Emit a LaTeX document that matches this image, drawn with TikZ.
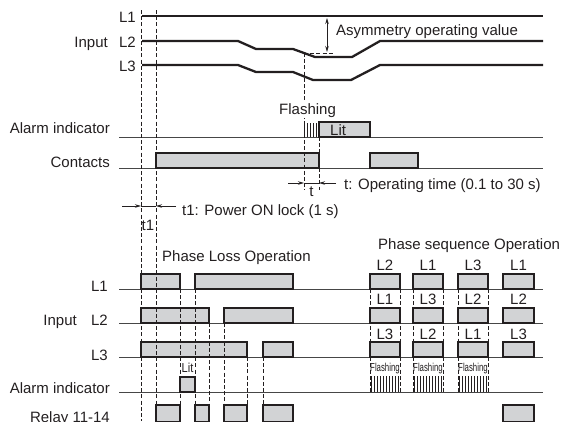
\documentclass[tikz,border=0pt]{standalone}
\usepackage{fontspec}
\setmainfont{Liberation Sans}
\usetikzlibrary{arrows.meta}
\definecolor{ink}{RGB}{35,31,32}
\definecolor{pfill}{RGB}{210,211,213}
\definecolor{basec}{RGB}{70,70,70}
\newcommand{\bigf}{\fontsize{15}{17}\selectfont}
\newcommand{\smallf}{\fontsize{11.5}{13}\selectfont}
\begin{document}
\begin{tikzpicture}[x=1pt,y=-1pt,
  sig/.style={line width=2.3pt, draw=ink},
  baseln/.style={line width=1pt, draw=basec},
  pulse/.style={draw=ink, fill=pfill, line width=1.2pt},
  guide/.style={draw=ink, line width=0.7pt, dash pattern=on 4pt off 2.2pt},
  lbl/.style={font=\bigf, inner sep=0pt, text=ink},
  slbl/.style={font=\smallf, inner sep=0pt, text=ink},
  hatch/.style={line width=0.8pt, draw=ink},
  dimarrow/.style={line width=0.8pt, draw=ink, -{Stealth[length=6pt,width=3.5pt]}},
  dimline/.style={line width=0.8pt, draw=ink}]
\useasboundingbox (0,0) rectangle (563,421);
\clip (0,0) rectangle (563,421);

% ---------- top: input signals ----------
\node[lbl, anchor=base east] (tL1) at (136,22) {L1};
\node[lbl, anchor=base east] (tL2) at (136,47) {L2};
\node[lbl, anchor=base east] (tL3) at (136,71) {L3};
\node[lbl, anchor=base east] (tIn) at (108,47) {Input};

\draw[sig] (142,16) -- (543,16);
\draw[sig] (142,41) -- (238,41) -- (256,49) -- (293,49) -- (315,57) -- (352,57) -- (380,41) -- (543,41);
\draw[sig] (142,65) -- (238,65) -- (256,72) -- (293,72) -- (313,80) -- (351,80) -- (380,65) -- (543,65);

% asymmetry
\coordinate (asyT) at (327,18);
\coordinate (asyB) at (327,52);
\draw[dimline, {Stealth[length=6pt,width=3.5pt]}-{Stealth[length=6pt,width=3.5pt]}] (asyT) -- (asyB);
\coordinate (thrA) at (304,53);
\coordinate (thrB) at (333,53);
\draw[guide] (thrA) -- (thrB);
\node[lbl, anchor=base west] (asy) at (336,35) {Asymmetry operating value};

% ---------- top: alarm indicator & contacts ----------
\node[lbl, anchor=base east] (tAl) at (110,133) {Alarm indicator};
\node[lbl, anchor=base east] (tCo) at (110,167) {Contacts};
\draw[baseln] (119,137) -- (543,137);
\draw[baseln] (119,168) -- (543,168);
\foreach \x in {304,307,310,313,316} \draw[hatch] (\x,123) -- (\x,137);
\draw[pulse] (319,122) rectangle (370,137);
\node[lbl, anchor=base west] (tLit) at (330,135.5) {Lit};
\draw[pulse] (156,153) rectangle (319,168);
\draw[pulse] (370,153) rectangle (418,168);

% ---------- timing dimensions ----------
\coordinate (tA) at (288,183);
\coordinate (tB) at (304,183);
\coordinate (tC) at (319,183);
\coordinate (tD) at (336,183);
\draw[dimarrow] (tA) -- (tB);
\draw[dimarrow] (tD) -- (tC);
\draw[dimline] (tB) -- (tC);
\node[lbl, anchor=base] (tlab) at (311.5,196.5) {t};
\node[lbl, anchor=base west] (tdesc) at (344,189) {t: Operating time (0.1 to 30 s)};

\coordinate (t1A) at (122,206);
\coordinate (t1B) at (141,206);
\coordinate (t1C) at (156,206);
\coordinate (t1D) at (176,206);
\draw[dimarrow] (t1A) -- (t1B);
\draw[dimarrow] (t1D) -- (t1C);
\draw[dimline] (t1B) -- (t1C);
\node[lbl, anchor=base] (t1lab) at (148,230) {t1};
\node[lbl, anchor=base west] (t1desc) at (182,215) {t1: Power ON lock (1 s)};

% ---------- bottom section ----------
\node[lbl, anchor=base west] (plo) at (162,261) {Phase Loss Operation};
\node[lbl, anchor=base west] (pso) at (378,249) {Phase sequence Operation};

\node[lbl, anchor=base east] (bL1) at (108,291.5) {L1};
\node[lbl, anchor=base east] (bL2) at (108,325) {L2};
\node[lbl, anchor=base east] (bIn) at (77,325) {Input};
\node[lbl, anchor=base east] (bL3) at (108,360) {L3};
\node[lbl, anchor=base east] (bAl) at (110,393) {Alarm indicator};
\node[lbl, anchor=base east] (bRe) at (110,422.5) {Relay 11-14};

\draw[baseln] (119,289) -- (543,289);
\draw[baseln] (119,323) -- (543,323);
\draw[baseln] (119,357) -- (543,357);
\draw[baseln] (119,392) -- (543,392);
\draw[baseln] (119,422) -- (543,422);

% phase loss pulses
\draw[pulse] (141,274) rectangle (180,289);
\draw[pulse] (195,274) rectangle (293,289);
\draw[pulse] (141,308) rectangle (209,323);
\draw[pulse] (224,308) rectangle (293,323);
\draw[pulse] (141,342) rectangle (247,357);
\draw[pulse] (263,342) rectangle (293,357);
\draw[pulse] (180,377) rectangle (195,392);
\node[font=\fontsize{13}{14}\selectfont, inner sep=0pt, text=ink, anchor=base] (bLit) at (187.5,372.5) {\scalebox{0.85}[1]{Lit}};
\foreach \a/\b in {156/180,195/209,224/247,263/293,503/534}
  \draw[pulse] (\a,405) rectangle (\b,422);

% phase sequence pulses
\foreach \a/\b in {370/400,413/443,458/488,503/534}{
  \draw[pulse] (\a,274) rectangle (\b,289);
  \draw[pulse] (\a,308) rectangle (\b,323);
  \draw[pulse] (\a,342) rectangle (\b,357);
}
\node[lbl, anchor=base] (r1a) at (385,270) {L2};
\node[lbl, anchor=base] (r1b) at (428,270) {L1};
\node[lbl, anchor=base] (r1c) at (473,270) {L3};
\node[lbl, anchor=base] (r1d) at (518.5,270) {L1};
\node[lbl, anchor=base] (r2a) at (385,304.5) {L1};
\node[lbl, anchor=base] (r2b) at (428,304.5) {L3};
\node[lbl, anchor=base] (r2c) at (473,304.5) {L2};
\node[lbl, anchor=base] (r2d) at (518.5,304.5) {L2};
\node[lbl, anchor=base] (r3a) at (385,339) {L3};
\node[lbl, anchor=base] (r3b) at (428,339) {L2};
\node[lbl, anchor=base] (r3c) at (473,339) {L1};
\node[lbl, anchor=base] (r3d) at (518.5,339) {L3};

\foreach \g/\c in {370/385,413/428,458/473}{
  \foreach \i in {0,...,9} \draw[hatch] ({\g+1.5+3*\i},376) -- ({\g+1.5+3*\i},392);
  \node[slbl, anchor=base] at (\c,371) {\scalebox{0.68}[1]{Flashing}};
}

% ---------- guide lines ----------
\draw[guide] (141,10) -- (141,421);
\draw[guide] (156,10) -- (156,421);
\draw[guide] (thrA) -- (304,190);
\draw[guide] (319,137) -- (319,153);
\draw[guide] (319,168) -- (319,190);
\foreach \x in {180,195} \draw[guide] (\x,289) -- (\x,421);
\foreach \x in {209,224} \draw[guide] (\x,323) -- (\x,421);
\foreach \x in {247,263} \draw[guide] (\x,357) -- (\x,421);
\foreach \x in {370,400,413,443,458,488} \draw[guide] (\x,289) -- (\x,392);

\node[lbl, anchor=base west, fill=white, inner sep=1pt] (tFl) at (278,114) {Flashing};
\end{tikzpicture}
\end{document}
